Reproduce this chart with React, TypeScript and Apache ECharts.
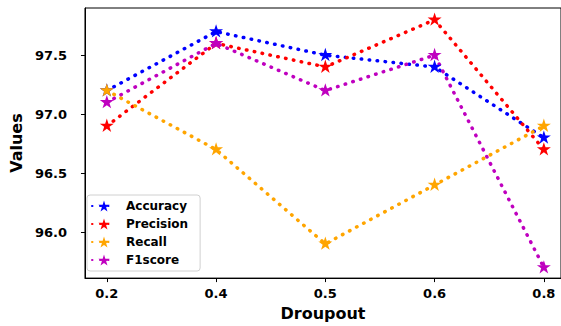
import React, { useEffect, useRef } from "react";
import * as echarts from "echarts";

const dropouts = ["0.2", "0.4", "0.5", "0.6", "0.8"];
const accuracy = [97.2, 97.7, 97.5, 97.4, 96.8];
const precision = [96.9, 97.6, 97.4, 97.8, 96.7];
const recall = [97.2, 96.7, 95.9, 96.4, 96.9];
const f1score = [97.1, 97.6, 97.2, 97.5, 95.7];
const yTicks = [96.0, 96.5, 97.0, 97.5];

const STAR =
  "path://M0,-100L22.45,-30.9L95.1,-30.9L36.33,11.8L58.8,80.9L0,38.2L-58.8,80.9L-36.33,11.8L-95.1,-30.9L-22.45,-30.9Z";

const FONT = "DejaVu Sans";

export default function App() {
  const ref = useRef<HTMLDivElement>(null);
  useEffect(() => {
    if (!ref.current) return;
    const chart = echarts.init(ref.current, undefined, { renderer: "svg" });
    const mk = (name: string, data: number[], color: string) => ({
      name,
      type: "line",
      data: data.map((v, i) => [i, v]),
      symbol: STAR,
      symbolSize: 14,
      symbolKeepAspect: true,
      symbolOffset: [0, -0.7],
      itemStyle: { color },
      lineStyle: { color, width: 3.5, type: [0.5, 7.5], cap: "round" },
      emphasis: { disabled: true },
    });
    chart.setOption({
      animation: false,
      backgroundColor: "#ffffff",
      grid: {
        left: 82,
        top: 8,
        bottom: 47,
        right: -2,
        show: true,
        borderColor: "#000",
        borderWidth: 1,
        backgroundColor: "transparent",
      },
      legend: {
        orient: "vertical",
        left: 87,
        top: 195,
        itemWidth: 24,
        itemHeight: 14,
        itemGap: 6,
        padding: [5, 12, 5, 4],
        borderColor: "#d0d0d0",
        borderWidth: 1,
        borderRadius: 3,
        backgroundColor: "rgba(255,255,255,0.85)",
        textStyle: {
          fontFamily: FONT,
          fontWeight: "bold",
          fontSize: 12,
          color: "#000",
          padding: [0, 0, 0, 5],
        },
        data: ["Accuracy", "Precision", "Recall", "F1score"],
      },
      xAxis: {
        type: "value",
        min: -0.2,
        max: -0.2 + 481 / 110.4,
        name: "Droupout",
        nameLocation: "middle",
        nameGap: 22,
        nameTextStyle: { fontFamily: FONT, fontWeight: "bold", fontSize: 16, color: "#000" },
        splitLine: { show: false },
        axisLine: { show: true, onZero: false, lineStyle: { color: "#000", width: 1 } },
        axisTick: {
          show: true,
          length: 4,
          lineStyle: { color: "#000" },
          customValues: [0, 1, 2, 3, 4],
        },
        axisLabel: {
          customValues: [0, 1, 2, 3, 4],
          formatter: (v: number) => dropouts[Math.round(v)] ?? "",
          fontFamily: FONT,
          fontWeight: "bold",
          fontSize: 13,
          color: "#000",
          margin: 9,
        },
      },
      yAxis: {
        type: "value",
        min: 95.61,
        max: 97.9,
        name: "Values",
        nameLocation: "middle",
        nameGap: 48,
        nameTextStyle: { fontFamily: FONT, fontWeight: "bold", fontSize: 16, color: "#000" },
        splitLine: { show: false },
        axisLine: { show: true, onZero: false, lineStyle: { color: "#000", width: 1 } },
        axisTick: {
          show: true,
          length: 4,
          lineStyle: { color: "#000" },
          customValues: yTicks,
        },
        axisLabel: {
          customValues: yTicks,
          formatter: (v: number) => v.toFixed(1),
          fontFamily: FONT,
          fontWeight: "bold",
          fontSize: 13,
          color: "#000",
          margin: 18,
        },
      },
      series: [
        mk("Accuracy", accuracy, "#0000ff"),
        mk("Precision", precision, "#ff0000"),
        mk("Recall", recall, "#ffa500"),
        mk("F1score", f1score, "#bf00bf"),
      ],
    });
    return () => chart.dispose();
  }, []);
  return (
    <div
      ref={ref}
      style={{ position: "fixed", left: 0, top: 0, width: 561, height: 326 }}
    />
  );
}
